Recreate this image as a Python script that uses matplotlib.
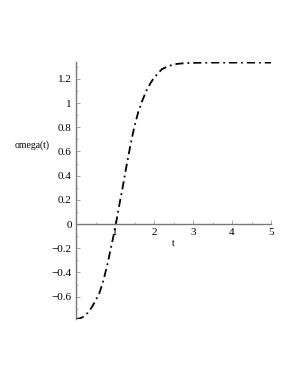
import matplotlib
matplotlib.use("Agg")
import matplotlib.pyplot as plt
from matplotlib.ticker import MultipleLocator, FixedLocator

# omega(t)
t = [0, 0.1, 0.2, 0.3, 0.4, 0.5, 0.6, 0.7, 0.8, 0.9, 1.0, 1.1, 1.2, 1.3, 1.4,
     1.5, 1.6, 1.7, 1.8, 1.9, 2.0, 2.2, 2.4, 2.6, 2.8, 3.0, 3.5, 4.0, 4.5, 5.0]
omega = [-0.785, -0.78, -0.765, -0.735, -0.69, -0.635, -0.57, -0.47, -0.34, -0.19,
         -0.04, 0.14, 0.31, 0.49, 0.66, 0.81, 0.93, 1.02, 1.10, 1.16,
         1.21, 1.28, 1.31, 1.325, 1.33, 1.333, 1.335, 1.335, 1.335, 1.335]

xticks = [1, 2, 3, 4, 5]
yticks = [-0.6, -0.4, -0.2, 0, 0.2, 0.4, 0.6, 0.8, 1, 1.2]
ylabels = ["\u22120.6", "\u22120.4", "\u22120.2", "0", "0.2", "0.4", "0.6", "0.8", "1", "1.2"]

plt.rcParams['font.family'] = ['Liberation Serif', 'DejaVu Serif']

W, H = 295, 382
fig = plt.figure(figsize=(W / 100, H / 100), dpi=100)
ax = fig.add_axes([76 / W, 1 - 319 / H, (271 - 76) / W, (319 - 62) / H])

ax.plot(t, omega, color='black', lw=1.3, linestyle=(0, (4.5, 2.2, 1, 2.2)))

ax.set_xlim(0, 5)
ax.set_ylim(-0.785, 1.34)

for s in ['top', 'right']:
    ax.spines[s].set_visible(False)
ax.spines['bottom'].set_position(('data', 0))
ax.spines['left'].set_position(('data', 0))
for s in ['bottom', 'left']:
    ax.spines[s].set_color('#777777')
    ax.spines[s].set_linewidth(1.0)

ax.xaxis.set_major_locator(FixedLocator(xticks))
ax.xaxis.set_minor_locator(MultipleLocator(0.5))
ax.yaxis.set_major_locator(FixedLocator(yticks))
ax.yaxis.set_minor_locator(MultipleLocator(0.1))
ax.set_xticklabels([str(v) for v in xticks])
ax.set_yticklabels(ylabels)
ax.tick_params(which='both', direction='in', color='#999999', labelsize=8,
               labelcolor='black')
ax.tick_params(which='major', length=3, width=0.6, pad=3)
ax.tick_params(which='minor', length=1.5, width=0.5)

fig.text(32 / W, 1 - 145 / H, 'omega(t)', fontsize=7, ha='center', va='center')
ax.text(2.5, -0.16, 't', fontsize=7, ha='center', va='center')

fig.savefig('out.png', dpi=100)
